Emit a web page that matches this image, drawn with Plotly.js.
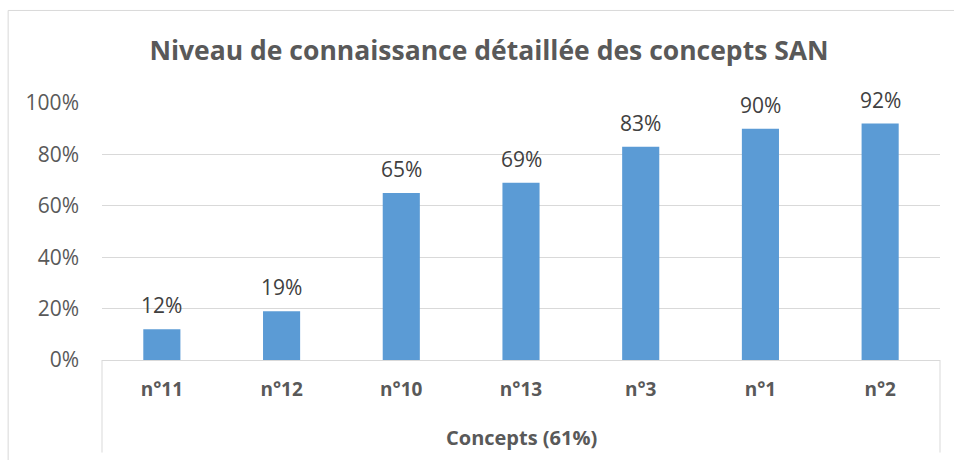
<!DOCTYPE html>
<html>
<head>
<meta charset="utf-8">
<script src="https://cdn.plot.ly/plotly-3.0.1.min.js"></script>
<style>
  body { margin: 0; background: #fff; }
  #chart { width: 954px; height: 460px; }
</style>
</head>
<body>
<div id="chart"></div>
<script>
var concepts = ['n°11', 'n°12', 'n°10', 'n°13', 'n°3', 'n°1', 'n°2'];
var niveau = [0.12, 0.19, 0.65, 0.69, 0.83, 0.90, 0.92];
var groupe = 'Concepts (61%)';

var gris = '#595959';
var police = 'Open Sans, sans-serif';

var barres = {
  type: 'bar',
  x: concepts,
  y: niveau,
  marker: { color: '#5b9bd5' },
  hoverinfo: 'skip'
};

// étiquettes de valeurs au-dessus des barres
var etiquettes = concepts.map(function (c, i) {
  return {
    x: c, y: niveau[i],
    text: Math.round(niveau[i] * 100) + '%',
    showarrow: false,
    yanchor: 'bottom',
    yshift: 8,
    font: { family: police, size: 21, color: '#404040' }
  };
});

etiquettes.push({
  xref: 'paper', yref: 'paper',
  x: 0.5, y: -0.30,
  xanchor: 'center', yanchor: 'middle',
  text: '<b>' + groupe + '</b>',
  showarrow: false,
  font: { family: police, size: 20, color: gris }
});

var layout = {
  width: 954,
  height: 460,
  margin: { l: 102, r: 14, t: 103, b: 100 },
  paper_bgcolor: '#fff',
  plot_bgcolor: '#fff',
  bargap: 0.69,
  showlegend: false,
  title: {
    text: '<b>Niveau de connaissance détaillée des concepts SAN</b>',
    font: { family: police, size: 26.5, color: gris },
    x: 0.5126, xanchor: 'center',
    y: 0.89, yanchor: 'middle'
  },
  xaxis: {
    type: 'category',
    showline: true,
    linecolor: '#d9d9d9',
    linewidth: 1,
    showgrid: false,
    ticks: '',
    ticklabelstandoff: 12,
    tickfont: { family: police, size: 19, color: gris, weight: 'bold' },
    fixedrange: true
  },
  yaxis: {
    range: [0, 1],
    dtick: 0.2,
    tickformat: '.0%',
    showgrid: true,
    gridcolor: '#d9d9d9',
    gridwidth: 1,
    zeroline: false,
    showline: false,
    ticks: '',
    ticklabelstandoff: 22,
    tickfont: { family: police, size: 21, color: gris },
    fixedrange: true
  },
  annotations: etiquettes,
  shapes: [
    { type: 'line', xref: 'paper', yref: 'paper', x0: 0, x1: 0, y0: 0, y1: -0.36,
      line: { color: '#d9d9d9', width: 1 } },
    { type: 'line', xref: 'paper', yref: 'paper', x0: 1, x1: 1, y0: 0, y1: -0.36,
      line: { color: '#d9d9d9', width: 1 } },
    { type: 'line', xref: 'paper', yref: 'paper', x0: -0.112, x1: 1.02, y0: 1.36, y1: 1.36,
      line: { color: '#d9d9d9', width: 1 } },
    { type: 'line', xref: 'paper', yref: 'paper', x0: -0.112, x1: -0.112, y0: 1.36, y1: -0.4,
      line: { color: '#d9d9d9', width: 1 } }
  ]
};

Plotly.newPlot('chart', [barres], layout, { displayModeBar: false, staticPlot: true });
</script>
</body>
</html>
